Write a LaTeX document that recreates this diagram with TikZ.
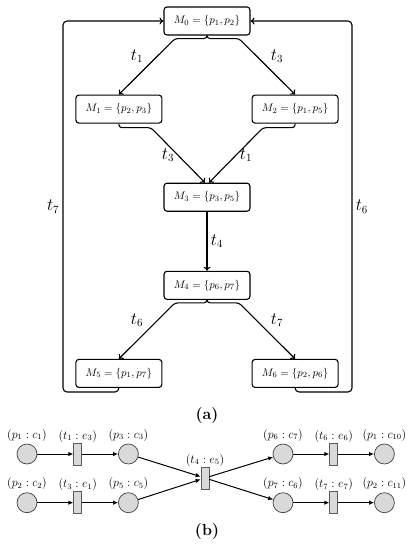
\documentclass[tikz,border=0pt]{standalone}
\usepackage{amsmath}
\usepackage{tikz}
\usetikzlibrary{
  arrows.meta,
  positioning,
  calc
}
\tikzset{
  markbox/.style={
    draw,
    rounded corners=3pt,
    line width=1.1pt,
    minimum width=86pt,
    minimum height=28pt,
    inner sep=2pt,
    font=\fontsize{11.4}{13}\selectfont
  },
  firearrow/.style={-{To[length=4pt,width=7pt]},line width=1.1pt,rounded corners=3pt},
  looparrow/.style={firearrow,rounded corners=4pt},
  tlabel/.style={font=\fontsize{16}{18}\selectfont},
  pnode/.style={circle,draw=black!75,fill=black!15,line width=0.7pt,minimum size=20pt,inner sep=0pt},
  tnode/.style={rectangle,draw=black!65,fill=black!15,line width=0.7pt,minimum width=8pt,minimum height=22pt,inner sep=0pt},
  netarrow/.style={-{Latex[length=5pt,width=4.5pt]},line width=1pt},
  netlabel/.style={font=\fontsize{12}{14}\selectfont},
  caption/.style={font=\fontsize{16}{18}\selectfont\bfseries}
}
\begin{document}
\begin{tikzpicture}[x=1pt,y=-1pt]
  \useasboundingbox (0,0) rectangle (414,550);

  % (a) reachability graph
  \node[markbox] (m0) at (207,21) {$M_0=\{p_1,p_2\}$};
  \node[markbox, below left=59pt and 1pt of m0] (m1) {$M_1=\{p_2,p_3\}$};
  \node[markbox, below right=59pt and 1pt of m0] (m2) {$M_2=\{p_1,p_5\}$};
  \node[markbox, below right=59pt and 1pt of m1] (m3) {$M_3=\{p_3,p_5\}$};
  \node[markbox, below=59pt of m3] (m4) {$M_4=\{p_6,p_7\}$};
  \node[markbox, below left=59pt and 1pt of m4] (m5) {$M_5=\{p_1,p_7\}$};
  \node[markbox, below right=59pt and 1pt of m4] (m6) {$M_6=\{p_2,p_6\}$};

  \draw[firearrow] (m0.south) |- ++(-32,3) -- node[tlabel, above left]{$t_1$} (m1.north);
  \draw[firearrow] (m0.south) |- ++(32,3) -- node[tlabel, above right]{$t_3$} (m2.north);
  \draw[firearrow] (m1.south) |- ++(32,4) -- node[tlabel, left]{$t_3$} ([xshift=-2pt]m3.north);
  \draw[firearrow] (m2.south) |- ++(-32,4) -- node[tlabel, right]{$t_1$} ([xshift=2pt]m3.north);
  \draw[firearrow] (m3) -- node[tlabel, right]{$t_4$} (m4);
  \draw[firearrow] (m4.south) |- ++(-32,3) -- node[tlabel, above left]{$t_6$} (m5.north);
  \draw[firearrow] (m4.south) |- ++(32,3) -- node[tlabel, above right]{$t_7$} (m6.north);
  \draw[looparrow] (m5.south) |- (63,392) |- node[tlabel, pos=0.25, left]{$t_7$} (m0.west);
  \draw[looparrow] (m6.south) |- (352,392) |- node[tlabel, pos=0.25, right]{$t_6$} (m0.east);

  \node[caption] (capa) at (207,416) {(a)};

  % (b) unfolded net
  \node[pnode, label={[netlabel,label distance=-1pt]above:{$(p_1:c_1)$}}] (c1) at (27,454) {};
  \node[tnode, right=36pt of c1, label={[netlabel,label distance=-3pt]above:{$(t_1:e_3)$}}] (e3) {};
  \node[pnode, right=36pt of e3, label={[netlabel,label distance=-1pt]above:{$(p_3:c_3)$}}] (c3) {};
  \node[pnode, below=28pt of c1, label={[netlabel,label distance=-1pt]above:{$(p_2:c_2)$}}] (c2) {};
  \node[tnode, right=36pt of c2, label={[netlabel,label distance=-3pt]above:{$(t_3:e_1)$}}] (e1) {};
  \node[pnode, right=36pt of e1, label={[netlabel,label distance=-1pt]above:{$(p_5:c_5)$}}] (c5) {};
  \node[tnode, label={[netlabel,label distance=-3pt]above:{$(t_4:e_5)$}}] (e5) at (205,478) {};
  \node[pnode, label={[netlabel,label distance=-1pt]above:{$(p_6:c_7)$}}] (c7) at (283,454) {};
  \node[tnode, right=36pt of c7, label={[netlabel,label distance=-3pt]above:{$(t_6:e_6)$}}] (e6) {};
  \node[pnode, right=36pt of e6, label={[netlabel,label distance=-1pt]above:{$(p_1:c_{10})$}}] (c10) {};
  \node[pnode, below=28pt of c7, label={[netlabel,label distance=-1pt]above:{$(p_7:c_6)$}}] (c6) {};
  \node[tnode, right=36pt of c6, label={[netlabel,label distance=-3pt]above:{$(t_7:e_7)$}}] (e7) {};
  \node[pnode, right=36pt of e7, label={[netlabel,label distance=-1pt]above:{$(p_2:c_{11})$}}] (c11) {};

  \draw[netarrow] (c1) -- (e3);
  \draw[netarrow] (e3) -- (c3);
  \draw[netarrow] (c2) -- (e1);
  \draw[netarrow] (e1) -- (c5);
  \draw[netarrow] (c3) -- (e5);
  \draw[netarrow] (c5) -- (e5);
  \draw[netarrow] (e5) -- (c7);
  \draw[netarrow] (e5) -- (c6);
  \draw[netarrow] (c7) -- (e6);
  \draw[netarrow] (e6) -- (c10);
  \draw[netarrow] (c6) -- (e7);
  \draw[netarrow] (e7) -- (c11);

  \node[caption] (capb) at (207,532) {(b)};
\end{tikzpicture}
\end{document}
